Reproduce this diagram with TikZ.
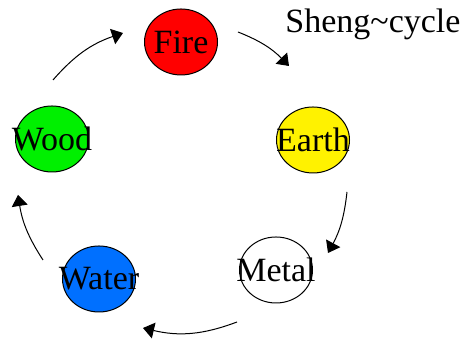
\documentclass[tikz,border=0pt]{standalone}
\usepackage{fontspec}
\setmainfont{Liberation Serif}
\usetikzlibrary{shapes.geometric, arrows.meta}
\tikzset{
    element/.style={ellipse, draw, line width=0.5pt, minimum width=36.5pt, minimum height=33pt, inner sep=0pt,
        label={[font=\fontsize{17}{20}\selectfont]center:#1}},
    cyclearrow/.style={line width=0.5pt, -{Triangle[width=8pt,length=5.5pt]}}
}
\begin{document}
\begin{tikzpicture}[x=0.5pt, y=0.5pt]
    \useasboundingbox (0,0) rectangle (461,340);
    \node (fire) [element=Fire, fill=red] at (181,298) {};
    \node (earth) [element=Earth, fill=yellow] at (313,200) {};
    \node (metal) [element=Metal, fill=white] at (276,70) {};
    \node (water) [element=Water, fill={rgb,255:red,0;green,112;blue,255}] at (99,61) {};
    \node (wood) [element=Wood, fill={rgb,255:red,0;green,240;blue,0}] at (52,201) {};
    \node (title) [anchor=base west, inner sep=0pt, font=\fontsize{17}{20}\selectfont] at (285,307) {Sheng\textasciitilde cycle};
    % arrows around the cycle
    \coordinate (wf1) at (53,260);  \coordinate (wf2) at (123,307);
    \coordinate (fe1) at (238,308); \coordinate (fe2) at (289,274);
    \coordinate (em1) at (347,148); \coordinate (em2) at (328,87);
    \coordinate (mw1) at (237,18);  \coordinate (mw2) at (143,12);
    \coordinate (ww1) at (43,80);   \coordinate (ww2) at (18,145);
    \draw [cyclearrow] (wf1) to[bend left=15] (wf2);
    \draw [cyclearrow] (fe1) to[bend left=12] (fe2);
    \draw [cyclearrow] (em1) to[bend left=11] (em2);
    \draw [cyclearrow] (mw1) to[bend left=17] (mw2);
    \draw [cyclearrow] (ww1) to[bend left=12] (ww2);
\end{tikzpicture}
\end{document}
